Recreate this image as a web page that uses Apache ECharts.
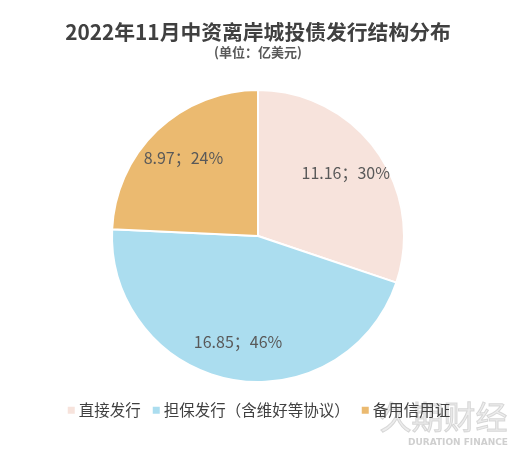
<!DOCTYPE html>
<html>
<head>
<meta charset="utf-8">
<script src="https://cdn.jsdelivr.net/npm/echarts@6/dist/echarts.min.js"></script>
<style>
  html, body { margin: 0; padding: 0; background: #fff; }
  #main { width: 516px; height: 453px; }
</style>
</head>
<body>
<div id="main"></div>
<script>
// 发行结构（亿美元）
var categories = ['直接发行', '担保发行（含维好等协议）', '备用信用证'];
var amounts = [11.16, 16.85, 8.97];
var colors = ['#F7E3DC', '#ABDDEF', '#EBBA70'];

var pieData = categories.map(function (name, i) {
  return { name: name, value: amounts[i], itemStyle: { color: colors[i] } };
});

var chart = echarts.init(document.getElementById('main'));
chart.setOption({
  backgroundColor: '#fff',
  animation: false,
  title: {
    text: '2022年11月中资离岸城投债发行结构分布',
    subtext: '(单位：亿美元)',
    left: 'center',
    top: 17,
    itemGap: 3,
    textStyle: { fontFamily: 'Noto Sans CJK SC', fontSize: 20.8, fontWeight: 'bold', color: '#404040' },
    subtextStyle: { fontFamily: 'Noto Sans CJK SC', fontSize: 13, fontWeight: 'bold', color: '#595959' }
  },
  legend: {
    data: categories,
    bottom: 30,
    left: 'center',
    icon: 'rect',
    itemWidth: 9,
    itemHeight: 9,
    itemGap: 10,
    textStyle: { fontFamily: 'Noto Sans CJK SC', fontSize: 15.5, color: '#404040', padding: [0, 0, 0, -2] }
  },
  graphic: [
    {
      type: 'text', right: 8, bottom: 20, silent: true,
      style: { text: '久期财经', font: '32px "Noto Sans CJK SC"', fill: 'rgba(200,200,200,0.35)', stroke: 'rgba(150,150,150,0.35)', lineWidth: 1 }
    },
    {
      type: 'text', right: 8, bottom: 6, silent: true,
      style: { text: 'DURATION FINANCE', font: 'bold 9px "DejaVu Sans"', fill: 'rgba(160,160,160,0.5)' }
    }
  ],
  series: [
    {
      type: 'pie',
      center: [258, 236],
      radius: [0, 146],
      startAngle: 90,
      percentPrecision: 0,
      itemStyle: { borderColor: '#fff', borderWidth: 2 },
      label: { show: false },
      labelLine: { show: false },
      emphasis: { disabled: true },
      data: pieData
    },
    {
      // 透明层，只用来放标签
      type: 'pie',
      center: [258, 236],
      radius: [64, 146],
      startAngle: 90,
      percentPrecision: 0,
      silent: true,
      itemStyle: { color: 'rgba(0,0,0,0)', borderWidth: 0 },
      label: {
        show: true,
        position: 'inside',
        formatter: '{c}；{d}%',
        fontFamily: 'Noto Sans CJK SC',
        fontSize: 16,
        color: '#595959'
      },
      labelLine: { show: false },
      emphasis: { disabled: true },
      data: categories.map(function (name, i) {
        return { name: name, value: amounts[i] };
      })
    }
  ]
});
</script>
</body>
</html>
